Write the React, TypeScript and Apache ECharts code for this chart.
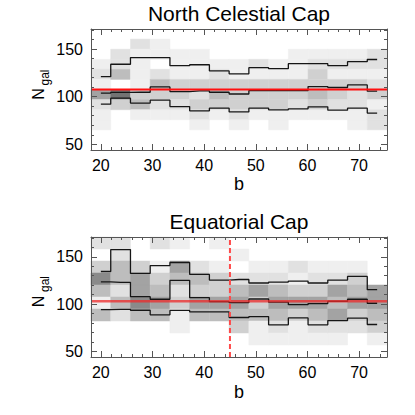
import React, { useEffect, useRef } from "react";
import * as echarts from "echarts";

const FONT = "'Liberation Sans', Helvetica, Arial, sans-serif";

const X_MIN = 18.1;
const X_MAX = 75.4;
const Y_MIN = 44;
const Y_MAX = 171;

// b bins
const bEdges = [18.1, 21.92, 25.74, 29.56, 33.38, 37.2, 41.02, 44.84, 48.66, 52.48, 56.3, 60.12, 63.94, 67.76, 71.58, 75.4];
const bCenters = [20.01, 23.83, 27.65, 31.47, 35.29, 39.11, 42.93, 46.75, 50.57, 54.39, 58.21, 62.03, 65.85, 69.67, 73.49];

// tick values
const xMajor = [20, 30, 40, 50, 60, 70];
const xMinor = [20, 22, 24, 26, 28, 30, 32, 34, 36, 38, 40, 42, 44, 46, 48, 50, 52, 54, 56, 58, 60, 62, 64, 66, 68, 70, 72, 74];
const yMajor = [50, 100, 150];
const yMinor = [50, 60, 70, 80, 90, 100, 110, 120, 130, 140, 150, 160, 170];

// Ngal bin edges (bottom to top)
const ncpNgalEdges = [44, 54.6, 65.2, 75.8, 86.3, 96.9, 107.5, 118.1, 128.7, 139.2, 149.8, 160.4, 171];
const eqNgalEdges = [44, 56.7, 69.4, 82.1, 94.8, 107.5, 120.2, 132.9, 145.6, 158.3, 171];

// density levels: one list per b bin, from highest Ngal bin down
const ncpDensity = [
  [0, 0, 0, 1, 2, 1, 5, 2, 1, 1, 0, 0],
  [0, 0, 2, 2, 4, 0, 7, 3, 0, 0, 0, 0],
  [0, 2, 1, 1, 1, 1, 3, 4, 1, 0, 0, 0],
  [0, 1, 1, 0, 2, 4, 3, 2, 1, 0, 0, 0],
  [0, 0, 1, 1, 1, 3, 3, 2, 1, 0, 0, 0],
  [0, 0, 1, 1, 1, 3, 2, 3, 2, 1, 0, 0],
  [0, 0, 0, 1, 2, 3, 4, 3, 1, 0, 0, 0],
  [0, 0, 0, 1, 1, 3, 3, 3, 2, 1, 0, 0],
  [0, 0, 0, 2, 1, 3, 3, 3, 1, 0, 0, 0],
  [0, 0, 0, 1, 1, 3, 3, 3, 1, 1, 0, 0],
  [0, 0, 1, 1, 1, 3, 3, 2, 1, 0, 0, 0],
  [0, 0, 1, 2, 3, 3, 4, 3, 1, 0, 0, 0],
  [0, 0, 1, 2, 1, 3, 3, 2, 1, 0, 0, 0],
  [0, 0, 1, 2, 1, 3, 2, 2, 1, 1, 0, 0],
  [0, 0, 2, 2, 1, 2, 3, 1, 2, 2, 0, 0],
];

const eqDensity = [
  [2, 0, 3, 6, 4, 1, 4, 0, 0, 0],
  [2, 2, 4, 4, 2, 4, 2, 0, 0, 0],
  [0, 0, 3, 5, 5, 6, 4, 0, 0, 0],
  [2, 0, 1, 3, 4, 5, 4, 0, 0, 0],
  [1, 0, 5, 4, 2, 3, 1, 1, 0, 0],
  [0, 0, 2, 4, 3, 5, 4, 0, 0, 0],
  [1, 0, 1, 3, 3, 5, 4, 0, 0, 0],
  [0, 1, 0, 2, 4, 5, 4, 3, 0, 0],
  [0, 0, 1, 2, 5, 3, 4, 1, 1, 0],
  [0, 0, 1, 2, 4, 5, 4, 2, 1, 0],
  [0, 0, 2, 1, 3, 5, 3, 1, 1, 0],
  [0, 0, 1, 2, 3, 5, 4, 2, 1, 0],
  [0, 0, 1, 2, 5, 4, 5, 2, 1, 0],
  [0, 0, 1, 3, 4, 5, 3, 2, 0, 0],
  [0, 0, 0, 0, 5, 5, 4, 3, 1, 0],
];

// step lines
const ncpUpper = [121, 134, 141, 141, 132.5, 133.5, 127, 124, 130.4, 129.4, 134.6, 134.6, 132.6, 136.7, 139];
const ncpMedian = [103.6, 104.5, 104.6, 110.2, 105.3, 106, 104.6, 102.8, 106.4, 106.4, 106.4, 110.6, 109.6, 112.3, 105.7];
const ncpLower = [92.1, 98.4, 93.2, 96.3, 89.6, 85.1, 87.9, 84, 87.9, 86.2, 87.2, 89.3, 85.8, 87.9, 82.8];
const ncpMean = 107.5;

const eqUpper = [134.5, 157.7, 132.4, 140.8, 144, 131.4, 125.4, 126, 122.3, 123.3, 124.4, 122.3, 125.4, 129.3, 115.2];
const eqMedian = [123.6, 123, 107.8, 105.1, 125.1, 106.8, 102.6, 101.5, 105.4, 102, 99.4, 100.5, 103, 105.1, 100.9];
const eqLower = [94.2, 94.5, 93.5, 88.6, 93.3, 91.7, 91.7, 85.8, 86.8, 78, 85.4, 78, 82.6, 85.1, 78.4];
const eqMean = 103;
const eqCut = 45;

const GRAYS = ["none", "#efefef", "#e1e1e1", "#d0d0d0", "#bdbdbd", "#a3a3a3", "#8a8a8a", "#737373"];

function buildCells(density: number[][], yEdges: number[]) {
  const out: number[][] = [];
  density.forEach((col, i) => {
    const n = col.length;
    col.forEach((lv, k) => {
      if (!lv) return;
      out.push([bEdges[i], bEdges[i + 1], yEdges[n - k - 1], yEdges[n - k], lv]);
    });
  });
  return out;
}

const AX = "#555";
const LABEL_SIZE = 16;

function xAxes(g: number) {
  const mk = (position: string, ticks: number[], len: number, labels: boolean, line: boolean) => ({
    type: "value",
    gridIndex: g,
    position,
    min: X_MIN,
    max: X_MAX,
    z: 10,
    splitLine: { show: false },
    axisLine: { show: line, onZero: false, lineStyle: { color: AX, width: 1 } },
    axisTick: { show: true, inside: true, length: len, customValues: ticks, lineStyle: { color: AX, width: 1 } },
    axisLabel: labels
      ? { show: true, customValues: xMajor, margin: 7, fontSize: LABEL_SIZE, color: "#000", fontFamily: FONT }
      : { show: false },
  });
  return [
    mk("bottom", xMajor, 6, true, true),
    mk("bottom", xMinor, 3, false, false),
    mk("top", xMajor, 6, false, true),
    mk("top", xMinor, 3, false, false),
  ];
}

function yAxes(g: number) {
  const mk = (position: string, ticks: number[], len: number, labels: boolean, line: boolean) => ({
    type: "value",
    gridIndex: g,
    position,
    min: Y_MIN,
    max: Y_MAX,
    z: 10,
    splitLine: { show: false },
    axisLine: { show: line, onZero: false, lineStyle: { color: AX, width: 1 } },
    axisTick: { show: true, inside: true, length: len, customValues: ticks, lineStyle: { color: AX, width: 1 } },
    axisLabel: labels
      ? { show: true, customValues: yMajor, margin: 8, fontSize: LABEL_SIZE, color: "#000", fontFamily: FONT }
      : { show: false },
  });
  return [
    mk("left", yMajor, 6, true, true),
    mk("left", yMinor, 3, false, false),
    mk("right", yMajor, 6, false, true),
    mk("right", yMinor, 3, false, false),
  ];
}

function panelSeries(
  g: number,
  density: number[][],
  yEdges: number[],
  upper: number[],
  median: number[],
  lower: number[],
  mean: number,
  meanStyle: any
) {
  const axisIdx = { xAxisIndex: g * 4, yAxisIndex: g * 4 };
  const stepLine = (vals: number[]) => ({
    type: "line",
    ...axisIdx,
    step: "middle",
    showSymbol: false,
    symbol: "none",
    silent: true,
    z: 3,
    lineStyle: { color: "#161616", width: 1.3 },
    data: bCenters.map((b, i) => [b, vals[i]]),
  });
  return [
    {
      type: "custom",
      ...axisIdx,
      silent: true,
      z: 1,
      encode: { x: [0, 1], y: [2, 3] },
      data: buildCells(density, yEdges),
      renderItem: (params: any, api: any) => {
        const p0 = api.coord([api.value(0), api.value(3)]);
        const p1 = api.coord([api.value(1), api.value(2)]);
        const c = GRAYS[api.value(4)];
        return {
          type: "rect",
          shape: { x: p0[0], y: p0[1], width: p1[0] - p0[0], height: p1[1] - p0[1] },
          style: { fill: c, stroke: c, lineWidth: 0.5 },
        };
      },
    },
    stepLine(upper),
    stepLine(median),
    stepLine(lower),
    {
      type: "line",
      ...axisIdx,
      showSymbol: false,
      symbol: "none",
      silent: true,
      z: 4,
      lineStyle: meanStyle,
      data: [
        [X_MIN, mean],
        [X_MAX, mean],
      ],
    },
  ];
}

function text(x: number, y: number, s: string, size: number, rotation = 0) {
  return {
    type: "text",
    x,
    y,
    rotation,
    silent: true,
    z: 20,
    style: {
      text: s,
      fontSize: size,
      fontFamily: FONT,
      fill: "#000",
      textAlign: "center",
      textVerticalAlign: "middle",
    },
  };
}

export default function App() {
  const ref = useRef<HTMLDivElement>(null);
  useEffect(() => {
    document.body.style.margin = "0";
    if (!ref.current) return;
    const chart = echarts.init(ref.current, null, { renderer: "svg" });
    const option: any = {
      animation: false,
      backgroundColor: "#fff",
      grid: [
        { left: 91, top: 29, width: 296, height: 121, containLabel: false },
        { left: 91, top: 237, width: 296, height: 120, containLabel: false },
      ],
      xAxis: [...xAxes(0), ...xAxes(1)],
      yAxis: [...yAxes(0), ...yAxes(1)],
      series: [
        ...panelSeries(0, ncpDensity, ncpNgalEdges, ncpUpper, ncpMedian, ncpLower, ncpMean, {
          color: "#ff1010",
          width: 2,
        }),
        ...panelSeries(1, eqDensity, eqNgalEdges, eqUpper, eqMedian, eqLower, eqMean, {
          color: "#ee2a2a",
          width: 2.5,
          opacity: 0.75,
        }),
        {
          type: "line",
          xAxisIndex: 4,
          yAxisIndex: 4,
          showSymbol: false,
          symbol: "none",
          silent: true,
          z: 5,
          lineStyle: { color: "#ff4a4a", width: 2, type: [5, 3] },
          data: [
            [eqCut, Y_MIN],
            [eqCut, Y_MAX],
          ],
        },
      ],
      graphic: [
        text(239, 13, "North Celestial Cap", 21),
        text(239, 221, "Equatorial Cap", 21),
        text(239, 184, "b", 18),
        text(239, 392, "b", 18),
        text(38, 94, "N", 16, Math.PI / 2),
        text(44.5, 77.5, "gal", 12, Math.PI / 2),
        text(38, 301.5, "N", 16, Math.PI / 2),
        text(44.5, 284, "gal", 12, Math.PI / 2),
      ],
    };
    chart.setOption(option);
    return () => chart.dispose();
  }, []);
  return (
    <div
      ref={ref}
      style={{ position: "absolute", left: 0, top: 0, width: 415, height: 415 }}
    />
  );
}
